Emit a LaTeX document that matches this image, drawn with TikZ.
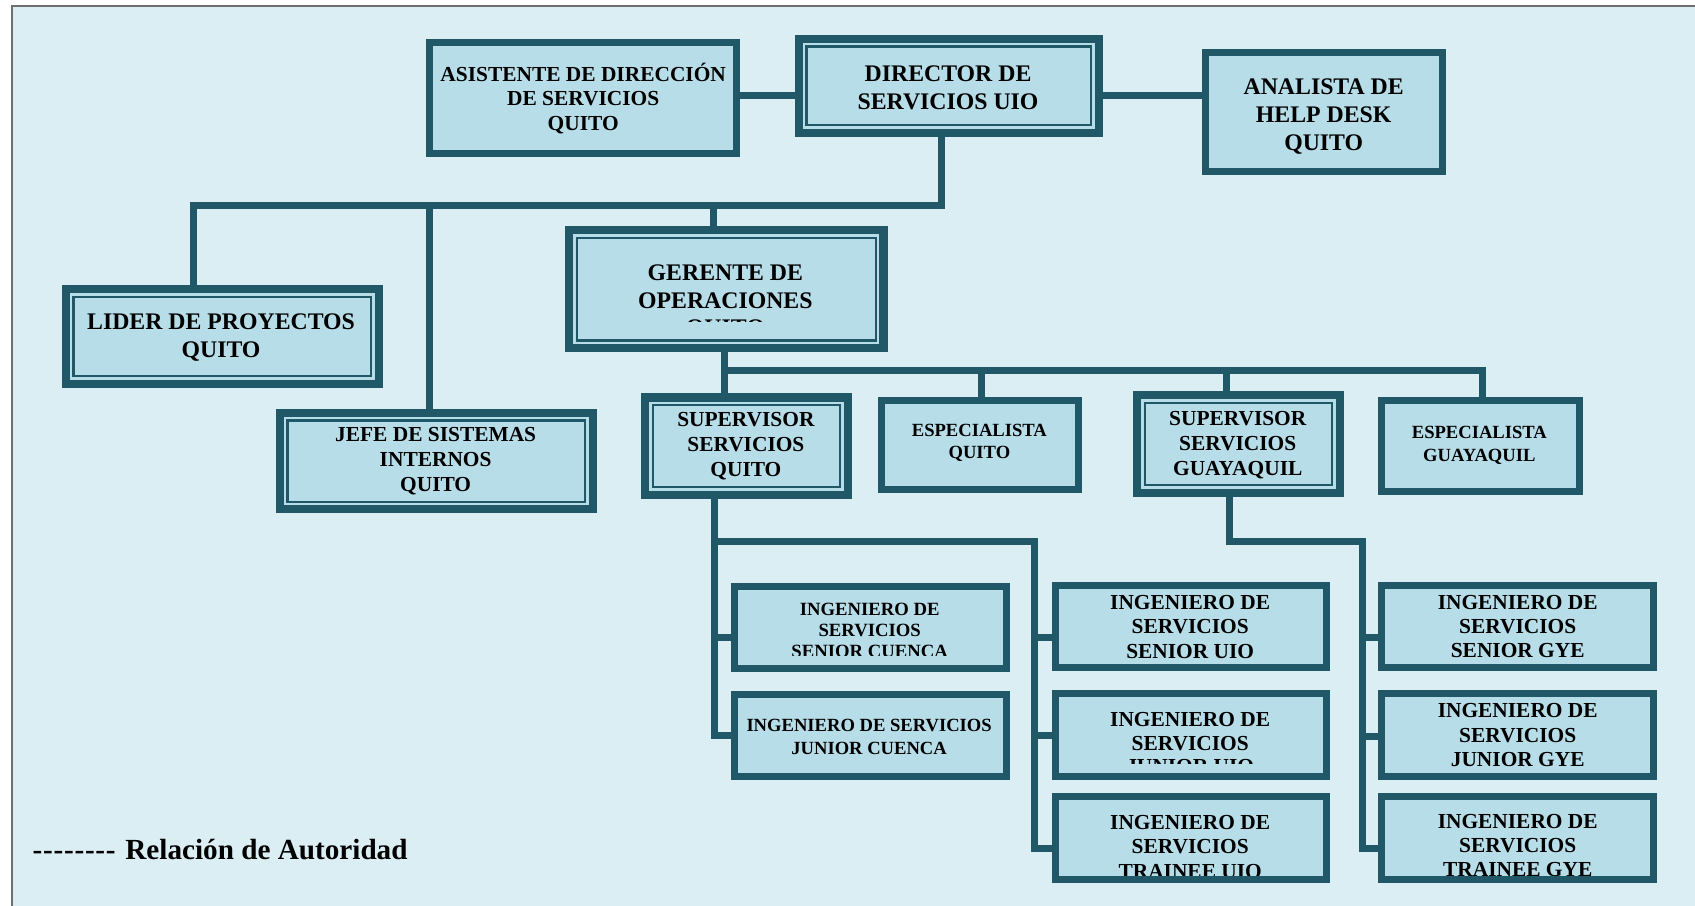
\documentclass[tikz,border=0pt]{standalone}
\usepackage{fontspec}
\setmainfont{Liberation Serif}

\definecolor{frame}{HTML}{215868}
\definecolor{cellfill}{HTML}{B7DDE8}
\definecolor{paper}{HTML}{DBEEF3}
\definecolor{edge}{HTML}{6E6E6E}

% centred block of bold lines; the baseline of the block is its first line
\newcommand{\chartlines}[3]{\parbox[t]{320pt}{\centering\fontsize{#1}{#2}\selectfont\bfseries #3}}
% thin inner rule of the double-framed boxes
\newcommand{\innerframe}[1]{\draw[thinframe] ([xshift=7.25pt,yshift=-7.25pt]#1.north west) rectangle ([xshift=-7.25pt,yshift=7.25pt]#1.south east);}

\tikzset{
  sbox/.style={rectangle, draw=frame, fill=cellfill, line width=6.5pt, inner sep=0pt, outer sep=0pt},
  dbox/.style={sbox, line width=7.5pt},
  thinframe/.style={draw=frame, line width=2pt},
  conn/.style={draw=frame, line width=6.5pt, line cap=rect, line join=miter},
  lbl/.style={inner sep=0pt, outer sep=0pt, anchor=base, text=black},
}

\begin{document}
\begin{tikzpicture}[x=1pt, y=-1pt]
\useasboundingbox (0,0) rectangle (1568,838);
\fill[white] (0,0) rectangle (1568,838);
\fill[paper] (11,5.5) rectangle (1568,838);
\draw[edge, line width=1.3pt] (11,838) -- (11,5.5) -- (1568,5.5);

% ---- boxes
\node[sbox, minimum width=284.5, minimum height=102.5] (asis)  at (539.5,90.5) {};
\node[dbox, minimum width=277.5, minimum height=87.5]  (dir)   at (877.5,79.5) {};
\node[sbox, minimum width=219.5, minimum height=110.5] (ana)   at (1225,103.5) {};
\node[dbox, minimum width=289.5, minimum height=87.5]  (lider) at (205.5,311.5) {};
\node[dbox, minimum width=290.5, minimum height=109.5] (ger)   at (672,267.5) {};
\node[dbox, minimum width=289.5, minimum height=89.5]  (jefe)  at (403.5,426.5) {};
\node[dbox, minimum width=187.5, minimum height=90]    (supq)  at (690.5,412.75) {};
\node[sbox, minimum width=182.5, minimum height=82.5]  (espq)  at (906.5,411.5) {};
\node[dbox, minimum width=187.5, minimum height=90.5]  (supg)  at (1145.5,411) {};
\node[sbox, minimum width=182.5, minimum height=84.5]  (espg)  at (1369.5,412.5) {};
\node[sbox, minimum width=251.5, minimum height=76]    (isc)   at (805,580.25) {};
\node[sbox, minimum width=251.5, minimum height=76.5]  (ijc)   at (805,680.5) {};
\node[sbox, minimum width=250.5, minimum height=76.5]  (isu)   at (1101.5,579.5) {};
\node[sbox, minimum width=250.5, minimum height=76.5]  (iju)   at (1101.5,680) {};
\node[sbox, minimum width=250.5, minimum height=76.5]  (itu)   at (1101.5,775.5) {};
\node[sbox, minimum width=251.5, minimum height=76.5]  (isg)   at (1404,579.5) {};
\node[sbox, minimum width=251.5, minimum height=76.5]  (ijg)   at (1404,680) {};
\node[sbox, minimum width=251.5, minimum height=76.5]  (itg)   at (1404,775.5) {};

\innerframe{dir}
\innerframe{lider}
\innerframe{ger}
\innerframe{jefe}
\innerframe{supq}
\innerframe{supg}

% ---- junction points of the connectors
\coordinate (hA) at (710,88.5);
\coordinate (hB) at (1066,88.5);
\coordinate (tTop) at (871,190);
\coordinate (tL) at (179,190);
\coordinate (tJ) at (397,190);
\coordinate (tG) at (660,190);
\coordinate (mG) at (670,343);
\coordinate (mQ) at (907.5,343);
\coordinate (mS) at (1135,343);
\coordinate (mE) at (1371,343);
\coordinate (qA) at (661,501);
\coordinate (qB) at (957,501);
\coordinate (c1) at (661,590);
\coordinate (c2) at (661,680);
\coordinate (u1) at (957,590);
\coordinate (u2) at (957,680);
\coordinate (u3) at (957,785);
\coordinate (gA) at (1137,501);
\coordinate (gB) at (1260,501);
\coordinate (g1) at (1260,590);
\coordinate (g2) at (1260,681);
\coordinate (g3) at (1260,785);

% ---- connectors
\draw[conn] (asis.east |- hA) -- (dir.west |- hA);
\draw[conn] (dir.east |- hB) -- (ana.west |- hB);
\draw[conn] (dir.south -| tTop) -- (tTop) -- (tL) -- (lider.north -| tL);
\draw[conn] (tJ) -- (jefe.north -| tJ);
\draw[conn] (tG) -- (ger.north -| tG);
\draw[conn] (ger.south -| mG) -- (supq.north -| mG);
\draw[conn] (mG) -- (mE) -- (espg.north -| mE);
\draw[conn] (mQ) -- (espq.north -| mQ);
\draw[conn] (mS) -- (supg.north -| mS);
\draw[conn] (supq.south -| qA) -- (c2) -- (ijc.west |- c2);
\draw[conn] (c1) -- (isc.west |- c1);
\draw[conn] (qA) -- (qB) -- (u3) -- (itu.west |- u3);
\draw[conn] (u1) -- (isu.west |- u1);
\draw[conn] (u2) -- (iju.west |- u2);
\draw[conn] (supg.south -| gA) -- (gA) -- (gB) -- (g3) -- (itg.west |- g3);
\draw[conn] (g1) -- (isg.west |- g1);
\draw[conn] (g2) -- (ijg.west |- g2);

% ---- box texts
\node[lbl] (asisT) at (539.5,75) {\chartlines{19.8}{23}{ASISTENTE DE DIRECCI\smash{Ó}N\\DE SERVICIOS\\QUITO}};
\node[lbl] (dirT) at (877,75.5) {\chartlines{22}{26}{DIRECTOR DE\\SERVICIOS UIO}};
\node[lbl] (anaT) at (1224.5,87.5) {\chartlines{22}{26}{ANALISTA DE\\HELP DESK\\QUITO}};
\node[lbl] (liderT) at (204.5,305) {\chartlines{22}{26}{LIDER DE PROYECTOS\\QUITO}};
\begin{scope}
  \clip (523,209) rectangle (821,297.5);
  \node[lbl] (gerT) at (671,259.6) {\chartlines{22}{25.5}{GERENTE DE\\OPERACIONES\\QUITO}};
\end{scope}
\node[lbl] (jefeT) at (403,408.5) {\chartlines{19.8}{23}{JEFE DE SISTEMAS\\INTERNOS\\QUITO}};
\node[lbl] (supqT) at (690,395) {\chartlines{19.8}{22.7}{SUPERVISOR\\SERVICIOS\\QUITO}};
\node[lbl] (espqT) at (906,404) {\chartlines{17.2}{20.5}{ESPECIALISTA\\QUITO}};
\node[lbl] (supgT) at (1145,393.5) {\chartlines{19.8}{23}{SUPERVISOR\\SERVICIOS\\GUAYAQUIL}};
\node[lbl] (espgT) at (1368.5,405.7) {\chartlines{17.2}{21}{ESPECIALISTA\\GUAYAQUIL}};
\begin{scope}
  \clip (676,539) rectangle (934,606.5);
  \node[lbl] (iscT) at (804.5,569.7) {\chartlines{17.3}{19.25}{INGENIERO DE\\SERVICIOS\\SENIOR CUENCA}};
\end{scope}
\node[lbl] (ijcT) at (804,676.3) {\chartlines{17.2}{21.6}{INGENIERO DE SERVICIOS\\JUNIOR CUENCA}};
\node[lbl] (isuT) at (1101,563.8) {\chartlines{19.8}{22.5}{INGENIERO DE\\SERVICIOS\\SENIOR UIO}};
\begin{scope}
  \clip (973,638.5) rectangle (1230,706.2);
  \node[lbl] (ijuT) at (1101,671.8) {\chartlines{19.8}{22}{INGENIERO DE\\SERVICIOS\\JUNIOR UIO}};
\end{scope}
\begin{scope}
  \clip (973,734) rectangle (1230,809.5);
  \node[lbl] (ituT) at (1101,767.1) {\chartlines{19.8}{22.6}{INGENIERO DE\\SERVICIOS\\TRAINEE UIO}};
\end{scope}
\node[lbl] (isgT) at (1404,563.8) {\chartlines{19.8}{22.4}{INGENIERO DE\\SERVICIOS\\SENIOR GYE}};
\node[lbl] (ijgT) at (1404,664.1) {\chartlines{19.8}{22.4}{INGENIERO DE\\SERVICIOS\\JUNIOR GYE}};
\begin{scope}
  \clip (1275,734) rectangle (1533,809.5);
  \node[lbl] (itgT) at (1404,766.8) {\chartlines{19.8}{22.2}{INGENIERO DE\\SERVICIOS\\TRAINEE GYE}};
\end{scope}

% ---- legend
\node[inner sep=0pt, anchor=base west, font=\fontsize{27}{31}\selectfont\bfseries] (legend) at (30,795.5)
  {-\kern.7pt-\kern.7pt-\kern.7pt-\kern.7pt-\kern.7pt-\kern.7pt-\kern.7pt-\hspace{9pt}Relación de Autoridad};
\end{tikzpicture}
\end{document}
